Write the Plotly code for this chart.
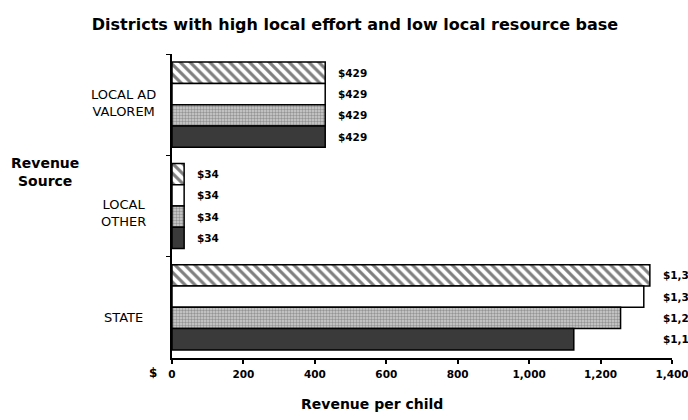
import plotly.graph_objects as go

# Revenue per child by source, four district groups
categories = ["LOCAL AD VALOREM", "LOCAL OTHER", "STATE"]
category_labels = ["LOCAL AD<br>VALOREM", "LOCAL<br>OTHER", "STATE"]
series_hatched = [429, 34, 1338]
series_white = [429, 34, 1321]
series_dotted = [429, 34, 1256]
series_dark = [429, 34, 1125]
x_ticks = [0, 200, 400, 600, 800, 1000, 1200, 1400]

series = [
    ("Group A", series_hatched, dict(color="white",
                                     pattern=dict(shape="\\", fgcolor="black", size=7, solidity=0.45))),
    ("Group B", series_white, dict(color="white")),
    ("Group C", series_dotted, dict(color="#cfcfcf",
                                    pattern=dict(shape=".", fgcolor="#5a5a5a", size=3, solidity=0.5))),
    ("Group D", series_dark, dict(color="#3a3a3a")),
]

FONT = "DejaVu Sans"
W, H = 688, 420
M = dict(l=172, r=16, t=54, b=62)
BARGAP = 0.16

fig = go.Figure()
for name, vals, marker in series:
    fig.add_trace(go.Bar(
        y=categories, x=vals, name=name, orientation="h",
        marker=dict(line=dict(color="black", width=1.5), **marker),
        showlegend=False, hoverinfo="skip",
    ))

# pixel geometry of one bar inside a group
plot_h = H - M["t"] - M["b"]
pitch = plot_h / len(categories)
bar_h = pitch * (1 - BARGAP) / len(series)

annotations = []
# value labels, aligned per group just right of the longest bar
for ci, cat in enumerate(categories):
    group_max = max(s[1][ci] for s in series)
    for si, (name, vals, _) in enumerate(series):
        offset = ((len(series) - 1) / 2 - si) * bar_h
        annotations.append(dict(
            x=group_max, y=cat, xref="x", yref="y",
            text="${:,}".format(vals[ci]), showarrow=False,
            xanchor="left", yanchor="middle", xshift=11, yshift=offset,
            font=dict(family=FONT, size=10.5, color="black", weight="bold"),
        ))

# category labels
label_yshift = [2, -7, -10]
for cat, lab, ys in zip(categories, category_labels, label_yshift):
    annotations.append(dict(
        x=-0.098, y=cat, xref="paper", yref="y", text=lab, showarrow=False,
        xanchor="center", yanchor="middle", align="center", yshift=ys,
        font=dict(family=FONT, size=13, color="black"),
    ))

annotations += [
    dict(x=-0.254, y=0.612, xref="paper", yref="paper", text="Revenue<br>Source",
         showarrow=False, xanchor="center", yanchor="middle", align="center",
         font=dict(family=FONT, size=14, color="black", weight="bold")),
    dict(x=0.4, y=-0.151, xref="paper", yref="paper", text="Revenue per child",
         showarrow=False, xanchor="center", yanchor="middle",
         font=dict(family=FONT, size=14, color="black", weight="bold")),
    dict(x=-0.038, y=-0.049, xref="paper", yref="paper", text="$",
         showarrow=False, xanchor="center", yanchor="middle",
         font=dict(family=FONT, size=12, color="black", weight="bold")),
]

fig.update_layout(
    width=W, height=H, margin=M,
    paper_bgcolor="white", plot_bgcolor="white",
    barmode="group", bargap=BARGAP, bargroupgap=0,
    title=dict(text="Districts with high local effort and low local resource base",
               x=0.516, xanchor="center", y=1 - 24 / H, yanchor="middle",
               font=dict(family=FONT, size=16, color="black", weight="bold")),
    annotations=annotations,
)
fig.update_xaxes(
    range=[0, 1400], tickvals=x_ticks, tickformat=",",
    showline=True, linecolor="black", linewidth=2,
    ticks="outside", ticklen=4, tickwidth=1.5, tickcolor="black",
    ticklabelstandoff=1, ticklabeloverflow="allow", automargin=False,
    showgrid=False, zeroline=False,
    tickfont=dict(family=FONT, size=10.5, color="black", weight="bold"),
)
fig.update_yaxes(
    categoryorder="array", categoryarray=categories, autorange="reversed",
    showticklabels=False, showline=True, linecolor="black", linewidth=1.5,
    ticks="outside", tickson="boundaries", ticklen=4, tickcolor="black",
    automargin=False, showgrid=False, zeroline=False,
)

fig.write_html("out.html")
